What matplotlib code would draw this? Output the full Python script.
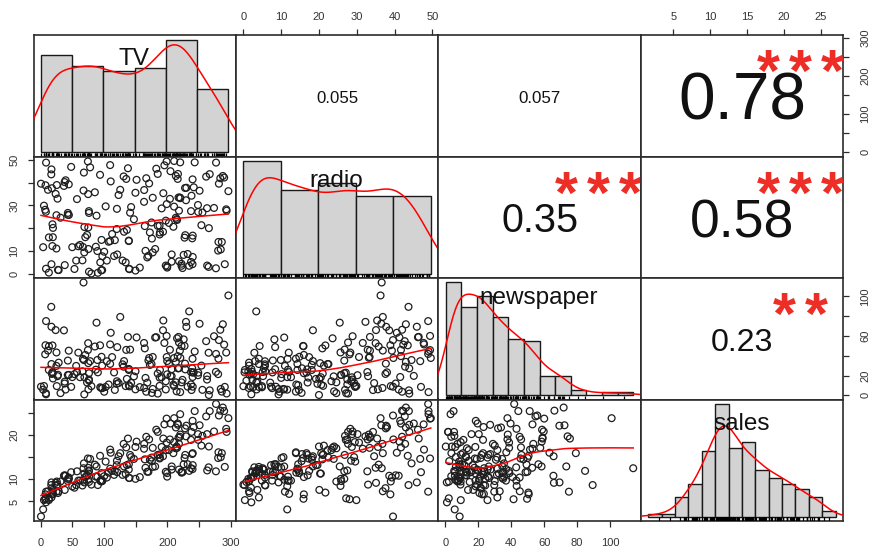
import numpy as np
import matplotlib
matplotlib.use('Agg')
import matplotlib.pyplot as plt
import matplotlib.transforms as mtransforms
from matplotlib.textpath import TextPath
from matplotlib.font_manager import FontProperties

plt.rcParams['font.family'] = ['Liberation Sans', 'DejaVu Sans']

# Advertising data (200 markets)
tv = [230.1, 44.5, 17.2, 151.5, 180.8, 8.7, 57.5, 120.2, 8.6, 199.8,
      66.1, 214.7, 23.8, 97.5, 204.1, 195.4, 67.8, 281.4, 69.2, 147.3,
      218.4, 237.4, 13.2, 228.3, 62.3, 262.9, 142.9, 240.1, 248.8, 70.6,
      292.9, 112.9, 97.2, 265.6, 95.7, 290.7, 266.9, 74.7, 43.1, 228.0,
      202.5, 177.0, 293.6, 206.9, 25.1, 175.1, 89.7, 239.9, 227.2, 66.9,
      199.8, 100.4, 216.4, 182.6, 262.7, 198.9, 7.3, 136.2, 210.8, 210.7,
      53.5, 261.3, 239.3, 102.7, 131.1, 69.0, 31.5, 139.3, 237.4, 216.8,
      199.1, 109.8, 26.8, 129.4, 213.4, 16.9, 27.5, 120.5, 5.4, 116.0,
      76.4, 239.8, 75.3, 68.4, 213.5, 193.2, 76.3, 110.7, 88.3, 109.8,
      134.3, 28.6, 217.7, 250.9, 107.4, 163.3, 197.6, 184.9, 289.7, 135.2,
      222.4, 296.4, 280.2, 187.9, 238.2, 137.9, 25.0, 90.4, 13.1, 255.4,
      225.8, 241.7, 175.7, 209.6, 78.2, 75.1, 139.2, 76.4, 125.7, 19.4,
      141.3, 18.8, 224.0, 123.1, 229.5, 87.2, 7.8, 80.2, 220.3, 59.6,
      0.7, 265.2, 8.4, 219.8, 36.9, 48.3, 25.6, 273.7, 43.0, 184.9,
      73.4, 193.7, 220.5, 104.6, 96.2, 140.3, 240.1, 243.2, 38.0, 44.7,
      280.7, 121.0, 197.6, 171.3, 187.8, 4.1, 93.9, 149.8, 11.7, 131.7,
      172.5, 85.7, 188.4, 163.5, 117.2, 234.5, 17.9, 206.8, 215.4, 284.3,
      50.0, 164.5, 19.6, 168.4, 222.4, 276.9, 248.4, 170.2, 276.7, 165.6,
      156.6, 218.5, 56.2, 287.6, 253.8, 205.0, 139.5, 191.1, 286.0, 18.7,
      39.5, 75.5, 17.2, 166.8, 149.7, 38.2, 94.2, 177.0, 283.6, 232.1]

radio = [37.8, 39.3, 45.9, 41.3, 10.8, 48.9, 32.8, 19.6, 2.1, 2.6,
         5.8, 24.0, 35.1, 7.6, 32.9, 47.7, 36.6, 39.6, 20.5, 23.9,
         27.7, 5.1, 15.9, 16.9, 12.6, 3.5, 29.3, 16.7, 27.1, 16.0,
         28.3, 17.4, 1.5, 20.0, 1.4, 4.1, 43.8, 49.4, 26.7, 37.7,
         22.3, 33.4, 27.7, 8.4, 25.7, 22.5, 9.9, 41.5, 15.8, 11.7,
         3.1, 9.6, 41.7, 46.2, 28.8, 49.4, 28.1, 19.2, 49.6, 29.5,
         2.0, 42.7, 15.5, 29.6, 42.8, 9.3, 24.6, 14.5, 27.5, 43.9,
         30.6, 14.3, 33.0, 5.7, 24.6, 43.7, 1.6, 28.5, 29.9, 7.7,
         26.7, 4.1, 20.3, 44.5, 43.0, 18.4, 27.5, 40.6, 25.5, 47.8,
         4.9, 1.5, 33.5, 36.5, 14.0, 31.6, 3.5, 21.0, 42.3, 41.7,
         4.3, 36.3, 10.1, 17.2, 34.3, 46.4, 11.0, 0.3, 0.4, 26.9,
         8.2, 38.0, 15.4, 20.6, 46.8, 35.0, 14.3, 0.8, 36.9, 16.0,
         26.8, 21.7, 2.4, 34.6, 32.3, 11.8, 38.9, 0.0, 49.0, 12.0,
         39.6, 2.9, 27.2, 33.5, 38.6, 47.0, 39.0, 28.9, 25.9, 43.9,
         17.0, 35.4, 33.2, 5.7, 14.8, 1.9, 7.3, 49.0, 40.3, 25.8,
         13.9, 8.4, 23.3, 39.7, 21.1, 11.6, 43.5, 1.3, 36.9, 18.4,
         18.1, 35.8, 18.1, 36.8, 14.7, 3.4, 37.6, 5.2, 23.6, 10.6,
         11.6, 20.9, 20.1, 7.1, 3.4, 48.9, 30.2, 7.8, 2.3, 10.0,
         2.6, 5.4, 5.7, 43.0, 21.3, 45.1, 2.1, 28.7, 13.9, 12.1,
         41.1, 10.8, 4.1, 42.0, 35.6, 3.7, 4.9, 9.3, 42.0, 8.6]

newspaper = [69.2, 45.1, 69.3, 58.5, 58.4, 75.0, 23.5, 11.6, 1.0, 21.2,
             24.2, 4.0, 65.9, 7.2, 46.0, 52.9, 114.0, 55.8, 18.3, 19.1,
             53.4, 23.5, 49.6, 26.2, 18.3, 19.5, 12.6, 22.9, 22.9, 40.8,
             43.2, 38.6, 30.0, 0.3, 7.4, 8.5, 5.0, 45.7, 35.1, 32.0,
             31.6, 38.7, 1.8, 26.4, 43.3, 31.5, 35.7, 18.5, 49.9, 36.8,
             34.6, 3.6, 39.6, 58.7, 15.9, 60.0, 41.4, 16.6, 37.7, 9.3,
             21.4, 54.7, 27.3, 8.4, 28.9, 0.9, 2.2, 10.2, 11.0, 27.2,
             38.7, 31.7, 19.3, 31.3, 13.1, 89.4, 20.7, 14.2, 9.4, 23.1,
             22.3, 36.9, 32.5, 35.6, 33.8, 65.7, 16.0, 63.2, 73.4, 51.4,
             9.3, 33.0, 59.0, 72.3, 10.9, 52.9, 5.9, 22.0, 51.2, 45.9,
             49.8, 100.9, 21.4, 17.9, 5.3, 59.0, 29.7, 23.2, 25.6, 5.5,
             56.5, 23.2, 2.4, 10.7, 34.5, 52.7, 25.6, 14.8, 79.2, 22.3,
             46.2, 50.4, 15.6, 12.4, 74.2, 25.9, 50.6, 9.2, 3.2, 43.1,
             8.7, 43.0, 2.1, 45.1, 65.6, 8.5, 9.3, 59.7, 20.5, 1.7,
             12.9, 75.6, 37.9, 34.4, 38.9, 9.0, 8.7, 44.3, 11.9, 20.6,
             37.0, 48.7, 14.2, 37.7, 9.5, 5.7, 50.5, 24.3, 45.2, 34.6,
             30.7, 49.3, 25.6, 7.4, 5.4, 84.8, 21.6, 19.4, 57.6, 6.4,
             18.4, 47.4, 17.0, 12.8, 13.1, 41.8, 20.3, 35.2, 23.7, 17.6,
             8.3, 27.4, 29.7, 71.8, 30.0, 19.6, 26.6, 18.2, 3.7, 23.4,
             5.8, 6.0, 31.6, 3.6, 6.0, 13.8, 8.1, 6.4, 66.2, 8.7]

sales = [22.1, 10.4, 9.3, 18.5, 12.9, 7.2, 11.8, 13.2, 4.8, 10.6,
         8.6, 17.4, 9.2, 9.7, 19.0, 22.4, 12.5, 24.4, 11.3, 14.6,
         18.0, 12.5, 5.6, 15.5, 9.7, 12.0, 15.0, 15.9, 18.9, 10.5,
         21.4, 11.9, 9.6, 17.4, 9.5, 12.8, 25.4, 14.7, 10.1, 21.5,
         16.6, 17.1, 20.7, 12.9, 8.5, 14.9, 10.6, 23.2, 14.8, 9.7,
         11.4, 10.7, 22.6, 21.2, 20.2, 23.7, 5.5, 13.2, 23.8, 18.4,
         8.1, 24.2, 15.7, 14.0, 18.0, 9.3, 9.5, 13.4, 18.9, 22.3,
         18.3, 12.4, 8.8, 11.0, 17.0, 8.7, 6.9, 14.2, 5.3, 11.0,
         11.8, 12.3, 11.3, 13.6, 21.7, 15.2, 12.0, 16.0, 12.9, 16.7,
         11.2, 7.3, 19.4, 22.2, 11.5, 16.9, 11.7, 15.5, 25.4, 17.2,
         11.7, 23.8, 14.8, 14.7, 20.7, 19.2, 7.2, 8.7, 5.3, 19.8,
         13.4, 21.8, 14.1, 15.9, 14.6, 12.6, 12.2, 9.4, 15.9, 6.6,
         15.5, 7.0, 11.6, 15.2, 19.7, 10.6, 6.6, 8.8, 24.7, 9.7,
         1.6, 12.7, 5.7, 19.6, 10.8, 11.6, 9.5, 20.8, 9.6, 20.7,
         10.9, 19.2, 20.1, 10.4, 11.4, 10.3, 13.2, 25.4, 10.9, 10.1,
         16.1, 11.6, 16.6, 19.0, 15.6, 3.2, 15.3, 10.1, 7.3, 12.9,
         14.4, 13.3, 14.9, 18.0, 11.9, 11.9, 8.0, 12.2, 17.1, 15.0,
         8.4, 14.5, 7.6, 11.7, 11.5, 27.0, 20.2, 11.7, 11.8, 12.6,
         10.5, 12.2, 8.7, 26.2, 17.6, 22.6, 10.3, 17.3, 15.9, 6.7,
         10.8, 9.9, 5.9, 19.6, 17.3, 7.6, 9.7, 12.8, 25.5, 13.4]

var_names = ['TV', 'radio', 'newspaper', 'sales']

# histogram breaks (Freedman-Diaconis, as R picked them)
tv_breaks = [0, 50, 100, 150, 200, 250, 300]
radio_breaks = [0, 10, 20, 30, 40, 50]
newspaper_breaks = [0, 10, 20, 30, 40, 50, 60, 70, 80, 90, 100, 110, 120]
sales_breaks = [0, 2, 4, 6, 8, 10, 12, 14, 16, 18, 20, 22, 24, 26, 28]

# upper panel: correlation text and significance stars
cor_pairs = [(0, 1), (0, 2), (0, 3), (1, 2), (1, 3), (2, 3)]
cor_labels = ['0.055', '0.057', '0.78', '0.35', '0.58', '0.23']
star_labels = ['', '', '***', '***', '***', '**']

# axis ticks and labels (R drops the ones that would overlap)
tv_ticks = [0, 50, 100, 150, 200, 250, 300]
tv_labels_bottom = ['0', '50', '100', '', '200', '', '300']
tv_labels_right = ['0', '', '100', '', '200', '', '300']
radio_ticks = [0, 10, 20, 30, 40, 50]
radio_labels_top = ['0', '10', '20', '30', '40', '50']
radio_labels_left = ['0', '10', '', '30', '', '50']
newspaper_ticks = [0, 20, 40, 60, 80, 100]
newspaper_labels_bottom = ['0', '20', '40', '60', '80', '100']
newspaper_labels_right = ['0', '20', '', '60', '', '100']
sales_ticks = [5, 10, 15, 20, 25]
sales_labels_top = ['5', '10', '15', '20', '25']
sales_labels_left = ['5', '10', '', '20', '']

data = [np.array(v, dtype=float) for v in (tv, radio, newspaper, sales)]
breaks = [np.array(b, dtype=float) for b in (tv_breaks, radio_breaks, newspaper_breaks, sales_breaks)]

BOX = '#2b2b2b'
TXT = '#333333'
GRAY = '#d3d3d3'
STAR = '#ec2e26'
FP = FontProperties(family='Liberation Sans')
FP_BOLD = FontProperties(family='Liberation Sans', weight='bold')


def rlim(lo, hi):
    d = (hi - lo) * 0.04
    return lo - d, hi + d


def lowess(x, y, f=2 / 3, iters=3):
    order = np.argsort(x, kind='stable')
    x = x[order]
    y = y[order]
    n = len(x)
    r = max(min(int(round(f * n)), n), 2)
    delta = np.ones(n)
    fit = np.zeros(n)
    for it in range(iters + 1):
        for i in range(n):
            d = np.abs(x - x[i])
            h = np.sort(d)[r - 1]
            if h <= 0:
                h = 1e-12
            w = np.clip(d / h, 0, 1)
            w = (1 - w ** 3) ** 3 * delta
            sw = w.sum()
            xm = (w * x).sum() / sw
            ym = (w * y).sum() / sw
            sxx = (w * (x - xm) ** 2).sum()
            b = (w * (x - xm) * (y - ym)).sum() / sxx if sxx > 1e-12 else 0.0
            fit[i] = ym + b * (x[i] - xm)
        if it == iters:
            break
        res = y - fit
        s = np.median(np.abs(res))
        if s <= 0:
            break
        u = np.clip(res / (6 * s), -1, 1)
        delta = (1 - u ** 2) ** 2
    return x, fit


def density(x):
    q75, q25 = np.percentile(x, [75, 25])
    bw = 0.9 * min(x.std(ddof=1), (q75 - q25) / 1.34) * len(x) ** -0.2
    g = np.linspace(x.min() - 3 * bw, x.max() + 3 * bw, 512)
    d = np.exp(-0.5 * ((g[:, None] - x[None, :]) / bw) ** 2).sum(axis=1)
    d /= len(x) * bw * np.sqrt(2 * np.pi)
    return g, d


def rtext(ax, x, y, s, size, color, dx_px=0.0, dy_px=0.0, prop=FP):
    # centre the ink of the string on (x, y), like R's text()
    ext = TextPath((0, 0), s, size=size, prop=prop).get_extents()
    cx = (ext.x0 + ext.x1) / 2
    cy = (ext.y0 + ext.y1) / 2
    tr = mtransforms.offset_copy(ax.transAxes, fig=ax.figure,
                                 x=dx_px * 0.72 - cx, y=dy_px * 0.72 - cy, units='points')
    ax.text(x, y, s, transform=tr, ha='left', va='baseline', fontsize=size,
            color=color, fontproperties=prop)


fig = plt.figure(figsize=(8.8, 5.52), dpi=100)
renderer = fig.canvas.get_renderer()

FW, FH = 880.0, 552.0
X0, Y0 = 33.5, 35.0
PW, PH = 202.4, 121.5

# star glyph sized to about 22 px tall, 32 px apart
star_ext = TextPath((0, 0), '*', size=100, prop=FP_BOLD).get_extents()
STAR_SIZE = 22 * 0.72 * 100 / star_ext.height
STAR_STEP = 32.0


def text_width(s, size):
    t = fig.text(0, 0, s, fontsize=size)
    w = t.get_window_extent(renderer).width
    t.remove()
    return w


axes = {}
for i in range(4):
    for j in range(4):
        left = (X0 + j * PW) / FW
        bottom = 1 - (Y0 + (i + 1) * PH) / FH
        ax = fig.add_axes([left, bottom, PW / FW, PH / FH])
        ax.set_xticks([])
        ax.set_yticks([])
        for sp in ax.spines.values():
            sp.set_color(BOX)
            sp.set_linewidth(1.2)
        axes[(i, j)] = ax

        if i == j:
            x = data[i]
            b = breaks[i]
            # R hist: right-closed bins
            cnt = np.histogram(-x, bins=-b[::-1])[0][::-1]
            widths = np.diff(b)
            dens = cnt / (len(x) * widths)
            ax.bar(b[:-1], dens, width=widths, align='edge', color=GRAY,
                   edgecolor='#1a1a1a', linewidth=1.0, zorder=2)
            g, d = density(x)
            ax.plot(g, d, color='red', lw=1.1, zorder=3)
            ax.vlines(x, 0, 0.03, transform=ax.get_xaxis_transform(),
                      colors='black', lw=0.9, zorder=3)
            ax.set_xlim(*rlim(b[0], b[-1]))
            ax.set_ylim(*rlim(0, dens.max()))
            rtext(ax, 0.5, 0.833, var_names[i], 17.5, '#111111', dy_px=-1.5)
        elif i > j:
            x = data[j]
            y = data[i]
            ax.scatter(x, y, s=24, facecolors='none', edgecolors='#1e1e1e',
                       linewidths=0.9, zorder=2)
            lx, ly = lowess(x, y)
            ax.plot(lx, ly, color='red', lw=1.1, zorder=3)
            ax.set_xlim(*rlim(x.min(), x.max()))
            ax.set_ylim(*rlim(y.min(), y.max()))
        else:
            ax.set_xlim(*rlim(data[j].min(), data[j].max()))
            ax.set_ylim(*rlim(data[i].min(), data[i].max()))
            k = cor_pairs.index((i, j))
            txt = cor_labels[k]
            r = abs(float(txt))
            base = 10 * 0.8 * PW / text_width(txt, 10)
            rtext(ax, 0.5, 0.5, txt, 0.95 * base * (r + 0.3) / 1.3, '#111111', dy_px=-1.5)
            n_star = len(star_labels[k])
            for s_i in range(n_star):
                off = (s_i - (n_star - 1) / 2) * STAR_STEP - 2
                rtext(ax, 0.8, 0.8, '*', STAR_SIZE, STAR, dx_px=off, dy_px=-2, prop=FP_BOLD)

tick_kw = dict(length=4.3, width=0.9, labelsize=8, colors=BOX, labelcolor=TXT)

# top axes: radio (col 1) and sales (col 3)
for j, ticks, labels in [(1, radio_ticks, radio_labels_top), (3, sales_ticks, sales_labels_top)]:
    ax = axes[(0, j)]
    ax.set_xticks(ticks)
    ax.set_xticklabels(labels)
    ax.tick_params(axis='x', top=True, bottom=False, labeltop=True, labelbottom=False,
                   pad=5.0, **tick_kw)

# bottom axes: TV (col 0) and newspaper (col 2)
for j, ticks, labels in [(0, tv_ticks, tv_labels_bottom), (2, newspaper_ticks, newspaper_labels_bottom)]:
    ax = axes[(3, j)]
    ax.set_xticks(ticks)
    ax.set_xticklabels(labels)
    ax.tick_params(axis='x', pad=8.0, **tick_kw)

# left axes: radio (row 1) and sales (row 3)
for i, ticks, labels in [(1, radio_ticks, radio_labels_left), (3, sales_ticks, sales_labels_left)]:
    ax = axes[(i, 0)]
    ax.set_yticks(ticks)
    ax.set_yticklabels(labels, rotation=90, va='center')
    ax.tick_params(axis='y', pad=6.0, **tick_kw)

# right axes: TV (row 0) and newspaper (row 2)
for i, ticks, labels in [(0, tv_ticks, tv_labels_right), (2, newspaper_ticks, newspaper_labels_right)]:
    ax = axes[(i, 3)]
    ax.set_yticks(ticks)
    ax.set_yticklabels(labels, rotation=90, va='center')
    ax.tick_params(axis='y', left=False, right=True, labelleft=False, labelright=True,
                   pad=8.0, **tick_kw)

fig.savefig('out.png', dpi=100, facecolor='white')
